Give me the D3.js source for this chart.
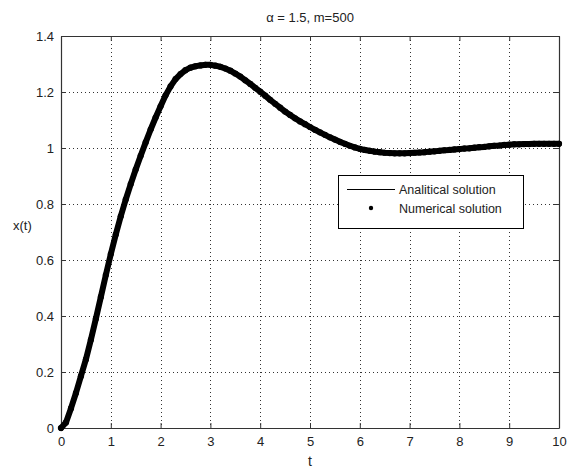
<!DOCTYPE html>
<html lang="en">
<head>
<meta charset="UTF-8">
<title>alpha = 1.5, m=500</title>
<script src="https://d3js.org/d3.v7.min.js"></script>
<style>
  body { margin: 0; background: #fff; }
  text { font-family: "Liberation Sans", Arial, sans-serif; fill: #222; }
</style>
</head>
<body>
<svg id="chart" width="571" height="470"></svg>
<script>
// values
const tValues = [
  0, 0.1, 0.2, 0.3, 0.4, 0.5, 0.6, 0.7, 0.8, 0.9,
  1.0, 1.1, 1.2, 1.3, 1.4, 1.5, 1.6, 1.7, 1.8, 1.9,
  2.0, 2.1, 2.2, 2.3, 2.4, 2.5, 2.6, 2.7, 2.8, 2.9,
  3.0, 3.1, 3.2, 3.3, 3.4, 3.5, 3.6, 3.7, 3.8, 3.9,
  4.0, 4.1, 4.2, 4.3, 4.4, 4.5, 4.6, 4.7, 4.8, 4.9,
  5.0, 5.1, 5.2, 5.3, 5.4, 5.5, 5.6, 5.7, 5.8, 5.9,
  6.0, 6.1, 6.2, 6.3, 6.4, 6.5, 6.6, 6.7, 6.8, 6.9,
  7.0, 7.1, 7.2, 7.3, 7.4, 7.5, 7.6, 7.7, 7.8, 7.9,
  8.0, 8.1, 8.2, 8.3, 8.4, 8.5, 8.6, 8.7, 8.8, 8.9,
  9.0, 9.1, 9.2, 9.3, 9.4, 9.5, 9.6, 9.7, 9.8, 9.9,
  10.0
];
const analytical = [
  0, 0.02, 0.07, 0.125, 0.185, 0.245, 0.315, 0.39, 0.468, 0.546,
  0.621, 0.691, 0.756, 0.816, 0.871, 0.923, 0.972, 1.02, 1.066, 1.109,
  1.149, 1.188, 1.22, 1.246, 1.264, 1.278, 1.287, 1.292, 1.295, 1.297,
  1.297, 1.294, 1.29, 1.284, 1.276, 1.266, 1.255, 1.242, 1.229, 1.215,
  1.201, 1.187, 1.172, 1.158, 1.144, 1.13, 1.118, 1.106, 1.095, 1.085,
  1.075, 1.065, 1.056, 1.047, 1.038, 1.03, 1.022, 1.015, 1.008, 1.002,
  0.997, 0.993, 0.99, 0.987, 0.985, 0.983, 0.982, 0.981, 0.981, 0.981,
  0.982, 0.983, 0.984, 0.985, 0.987, 0.988, 0.99, 0.992, 0.993, 0.995,
  0.996, 0.998, 0.999, 1.001, 1.003, 1.004, 1.006, 1.008, 1.009, 1.011,
  1.012, 1.013, 1.013, 1.014, 1.014, 1.015, 1.015, 1.015, 1.015, 1.015,
  1.015
];
// numerical markers sit on top of the analytical curve
const numerical = analytical.slice();

const xTicks = [0, 1, 2, 3, 4, 5, 6, 7, 8, 9, 10];
const yTicks = [0, 0.2, 0.4, 0.6, 0.8, 1, 1.2, 1.4];
const legendLabels = ["Analitical solution", "Numerical solution"];

const svg = d3.select("#chart");
const plotLeft = 61, plotRight = 559, plotTop = 36, plotBottom = 428;

const x = d3.scaleLinear().domain([0, 10]).range([plotLeft, plotRight]);
const y = d3.scaleLinear().domain([0, 1.4]).range([plotBottom, plotTop]);

// grid
svg.append("g").selectAll("line")
  .data(xTicks.slice(1, -1))
  .enter().append("line")
  .attr("x1", d => Math.round(x(d)) + 0.5).attr("x2", d => Math.round(x(d)) + 0.5)
  .attr("y1", plotTop).attr("y2", plotBottom)
  .attr("stroke", "#333").attr("stroke-dasharray", "1,3");
svg.append("g").selectAll("line")
  .data(yTicks.slice(1, -1))
  .enter().append("line")
  .attr("y1", d => Math.round(y(d)) + 0.5).attr("y2", d => Math.round(y(d)) + 0.5)
  .attr("x1", plotLeft).attr("x2", plotRight)
  .attr("stroke", "#333").attr("stroke-dasharray", "1,3");

// box and inner ticks on all sides
const axisColor = "#333";
svg.append("g").attr("transform", `translate(0,${plotBottom})`)
  .call(d3.axisBottom(x).tickValues(xTicks).tickSizeInner(-5).tickSizeOuter(0).tickPadding(9).tickFormat(d3.format("d")))
  .call(g => g.select(".domain").attr("stroke", axisColor))
  .call(g => g.selectAll("line").attr("stroke", axisColor))
  .call(g => g.selectAll("text").attr("font-size", 13).attr("fill", "#222"));
svg.append("g").attr("transform", `translate(0,${plotTop})`)
  .call(d3.axisTop(x).tickValues(xTicks).tickSizeInner(-5).tickSizeOuter(0).tickFormat(""))
  .call(g => g.select(".domain").attr("stroke", axisColor))
  .call(g => g.selectAll("line").attr("stroke", axisColor));
svg.append("g").attr("transform", `translate(${plotLeft},0)`)
  .call(d3.axisLeft(y).tickValues(yTicks).tickSizeInner(-5).tickSizeOuter(0).tickPadding(7).tickFormat(d3.format("~g")))
  .call(g => g.select(".domain").attr("stroke", axisColor))
  .call(g => g.selectAll("line").attr("stroke", axisColor))
  .call(g => g.selectAll("text").attr("font-size", 13).attr("fill", "#222"));
svg.append("g").attr("transform", `translate(${plotRight},0)`)
  .call(d3.axisRight(y).tickValues(yTicks).tickSizeInner(-5).tickSizeOuter(0).tickFormat(""))
  .call(g => g.select(".domain").attr("stroke", axisColor))
  .call(g => g.selectAll("line").attr("stroke", axisColor));
svg.selectAll(".domain").attr("stroke-width", 1.2);

// analytical line
const line = d3.line().x((d, i) => x(tValues[i])).y(d => y(d));
svg.append("path").datum(analytical)
  .attr("d", line).attr("fill", "none").attr("stroke", "#000").attr("stroke-width", 1);

// numerical solution: dense markers make a thick band
svg.append("path").datum(numerical)
  .attr("d", line).attr("fill", "none").attr("stroke", "#000")
  .attr("stroke-width", 6).attr("stroke-linejoin", "round").attr("stroke-linecap", "round");
svg.append("g").selectAll("circle")
  .data(numerical)
  .enter().append("circle")
  .attr("cx", (d, i) => x(tValues[i]))
  .attr("cy", d => y(d))
  .attr("r", 3.1)
  .attr("fill", "#000");

// labels
svg.append("text").attr("x", (plotLeft + plotRight) / 2).attr("y", 22)
  .attr("text-anchor", "middle").attr("font-size", 13)
  .text("\u03b1 = 1.5, m=500");
svg.append("text").attr("x", (plotLeft + plotRight) / 2).attr("y", 466)
  .attr("text-anchor", "middle").attr("font-size", 14).text("t");
svg.append("text").attr("x", 13).attr("y", 230)
  .attr("font-size", 13).text("x(t)");

// legend
const lg = svg.append("g");
lg.append("rect").attr("x", 338.5).attr("y", 175.5).attr("width", 185).attr("height", 53)
  .attr("fill", "#fff").attr("stroke", "#000");
lg.append("line").attr("x1", 347).attr("x2", 395).attr("y1", 189.5).attr("y2", 189.5)
  .attr("stroke", "#000");
lg.append("circle").attr("cx", 371).attr("cy", 208).attr("r", 2.2).attr("fill", "#000");
lg.selectAll("text.lab").data(legendLabels).enter().append("text")
  .attr("class", "lab")
  .attr("x", 399).attr("y", (d, i) => 194 + i * 19)
  .attr("font-size", 12.5).text(d => d);
</script>
</body>
</html>
